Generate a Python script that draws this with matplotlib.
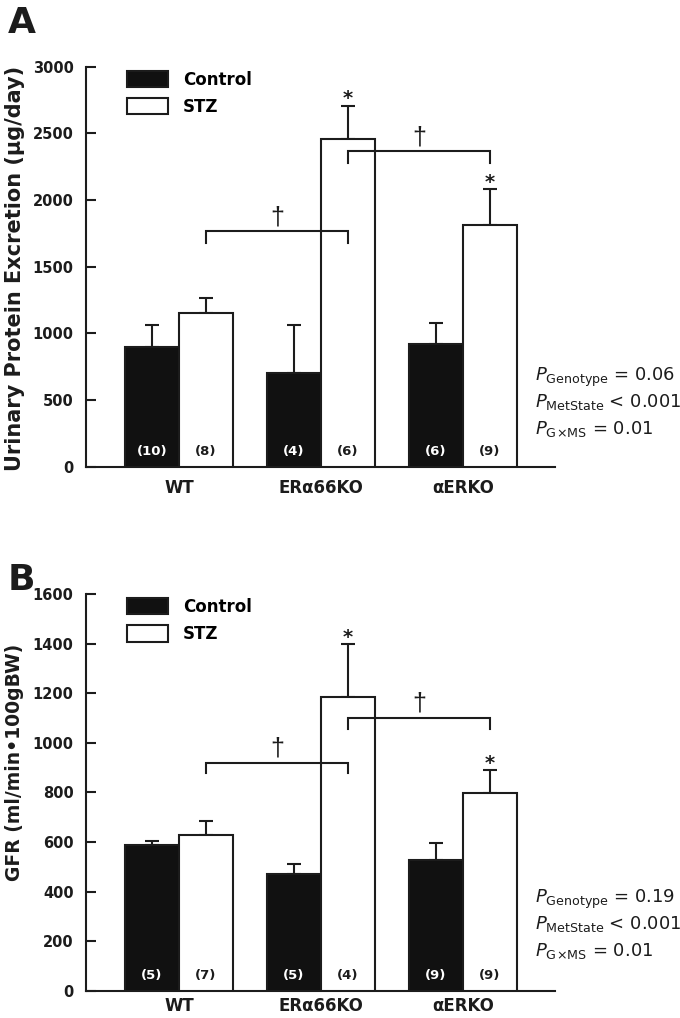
import numpy as np
import matplotlib
matplotlib.use('Agg')
import matplotlib.pyplot as plt

# groups and values
groups = ['WT', 'ERα66KO', 'αERKO']
series = ['Control', 'STZ']

upe_ctrl = [900, 705, 920]
upe_ctrl_err = [160, 355, 155]
upe_stz = [1153, 2456, 1813]
upe_stz_err = [110, 250, 268]
upe_n_ctrl = [10, 4, 6]
upe_n_stz = [8, 6, 9]
upe_brackets = [1765, 2365]
upe_pvals = ['= 0.06', '< 0.001', '= 0.01']

gfr_ctrl = [587, 470, 527]
gfr_ctrl_err = [15, 42, 67]
gfr_stz = [626, 1183, 796]
gfr_stz_err = [57, 214, 94]
gfr_n_ctrl = [5, 5, 9]
gfr_n_stz = [7, 4, 9]
gfr_brackets = [919, 1100]
gfr_pvals = ['= 0.19', '< 0.001', '= 0.01']

p_names = ['Genotype', 'MetState', r'G\!\times\!MS']
star_groups = [1, 2]
bracket_pairs = [(0, 1), (1, 2)]

W = 0.38
INK = '#1c1c1c'
plt.rcParams['font.family'] = ['DejaVu Sans']
plt.rcParams['mathtext.fontset'] = 'dejavusans'


def draw_panel(ax, ctrl, ctrl_err, stz, stz_err, n_ctrl, n_stz, brackets, leg, ymax, step, xpad):
    x = np.arange(len(groups))
    b1 = ax.bar(x - W / 2, ctrl, W, color='#111111', edgecolor=INK, linewidth=1.5, label=series[0], zorder=3)
    b2 = ax.bar(x + W / 2, stz, W, color='white', edgecolor=INK, linewidth=1.5, label=series[1], zorder=3)
    ax.errorbar(x - W / 2, ctrl, yerr=[np.zeros(3), ctrl_err], fmt='none', ecolor=INK,
                elinewidth=1.5, capsize=4.7, capthick=1.5, zorder=2)
    ax.errorbar(x + W / 2, stz, yerr=[np.zeros(3), stz_err], fmt='none', ecolor=INK,
                elinewidth=1.5, capsize=4.7, capthick=1.5, zorder=2)

    # n per bar
    for i in range(len(groups)):
        ax.annotate(f'({n_ctrl[i]})', (x[i] - W / 2, 0), xytext=(0, 10.8), textcoords='offset points',
                    ha='center', va='center', color='white', fontsize=9.5, fontweight='bold', zorder=5)
        ax.annotate(f'({n_stz[i]})', (x[i] + W / 2, 0), xytext=(0, 10.8), textcoords='offset points',
                    ha='center', va='center', color=INK, fontsize=9.5, fontweight='bold', zorder=5)

    # stars over STZ bars
    for g in star_groups:
        ax.annotate('*', (x[g] + W / 2, stz[g] + stz_err[g]), xytext=(0, 1), textcoords='offset points',
                    ha='center', va='baseline', fontsize=14, fontweight='bold', color=INK)

    # daggers between STZ bars
    for (a, b), h in zip(bracket_pairs, brackets):
        xa, xb = x[a] + W / 2, x[b] + W / 2
        ax.plot([xa, xa, xb, xb], [h - leg, h, h, h - leg], color=INK, lw=1.5,
                solid_joinstyle='miter', zorder=4)
        ax.annotate('†', ((xa + xb) / 2, h), xytext=(0, 5), textcoords='offset points',
                    ha='center', va='baseline', fontsize=18, color=INK, family='Liberation Sans')

    ax.set_xlim(-0.655, 2.648)
    ax.set_ylim(0, ymax)
    ax.set_yticks(np.arange(0, ymax + 1, step))
    ax.set_xticks(x)
    ax.set_xticklabels(groups, fontsize=12, fontweight='bold')
    ax.tick_params(axis='x', length=0, pad=xpad, colors=INK)
    ax.tick_params(axis='y', direction='in', length=7, width=1.5, pad=9, labelsize=10.5, colors=INK)
    for t in ax.get_yticklabels():
        t.set_fontweight('bold')
    for s in ['top', 'right']:
        ax.spines[s].set_visible(False)
    for s in ['left', 'bottom']:
        ax.spines[s].set_linewidth(1.5)
        ax.spines[s].set_color(INK)

    ax.legend(handles=[b1, b2], loc='upper left', bbox_to_anchor=(0.087, 0.99), frameon=False,
              borderpad=0, borderaxespad=0, handlelength=2.46, handleheight=1.15,
              handletextpad=0.9, labelspacing=0.55, prop={'weight': 'bold', 'size': 12})


fig = plt.figure(figsize=(6.8, 10.18), dpi=100)
axA = fig.add_axes([0.1265, 0.5415, 0.6897, 0.393])
axB = fig.add_axes([0.1265, 0.0268, 0.6897, 0.3898])

draw_panel(axA, upe_ctrl, upe_ctrl_err, upe_stz, upe_stz_err, upe_n_ctrl, upe_n_stz,
           upe_brackets, 85, 3000, 500, 9)
draw_panel(axB, gfr_ctrl, gfr_ctrl_err, gfr_stz, gfr_stz_err, gfr_n_ctrl, gfr_n_stz,
           gfr_brackets, 43, 1600, 200, 4.5)

fig.text(15 / 680, 1 - 268 / 1018, 'Urinary Protein Excretion (μg/day)', rotation=90,
         ha='center', va='center', fontsize=15, fontweight='bold', color=INK)
fig.text(15 / 680, 1 - 762 / 1018, 'GFR (ml/min•100gBW)', rotation=90,
         ha='center', va='center', fontsize=13.5, fontweight='bold', color=INK)

fig.text(8 / 680, 1 - 33 / 1018, 'A', fontsize=26, fontweight='bold', color=INK, va='baseline')
fig.text(8 / 680, 1 - 590 / 1018, 'B', fontsize=26, fontweight='bold', color=INK, va='baseline')

for pvals, y0 in [(upe_pvals, 381), (gfr_pvals, 903)]:
    for k, (name, val) in enumerate(zip(p_names, pvals)):
        fig.text(535 / 680, 1 - (y0 + 26.5 * k) / 1018,
                 r'$P_{\mathrm{' + name + '}}$ ' + val, fontsize=13, color=INK, va='baseline')

fig.savefig('out.png', dpi=100)
